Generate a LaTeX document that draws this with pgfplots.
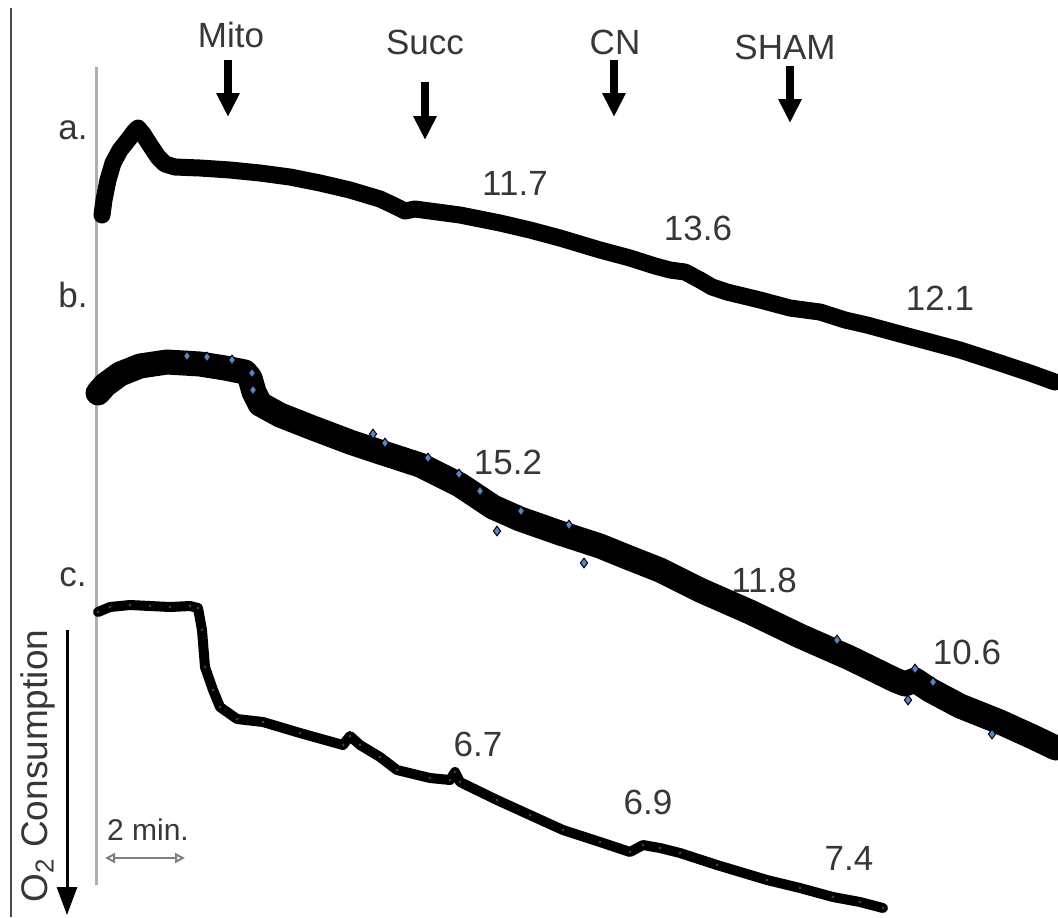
\documentclass[border=0pt]{standalone}
\usepackage{fontspec}
\setmainfont{Liberation Sans}
\usepackage{pgfplots}
\pgfplotsset{compat=1.18}
\usetikzlibrary{arrows.meta}
\definecolor{txt}{RGB}{55,55,55}
\definecolor{axgray}{RGB}{175,175,175}
\definecolor{dotblue}{RGB}{85,135,195}
\tikzset{lab/.style={text=txt, font=\fontsize{17.5}{20}\selectfont}}

\begin{document}
\begin{tikzpicture}
\begin{axis}[
    scale only axis, width=529pt, height=458.5pt,
    xmin=0, xmax=1058, ymin=0, ymax=917, y dir=reverse,
    hide axis,
]
\fill[white] (axis cs:0,0) rectangle (axis cs:1058,917);
% frame lines
\draw[black!70, line width=1pt] (axis cs:11,8) -- (axis cs:11,917);
\draw[axgray, line width=1.5pt] (axis cs:96,67) -- (axis cs:96,885);

% trace a
\addplot[black, line width=8.5pt, line join=round, line cap=round] coordinates {
  (102,215)(104,200)(108,180)(113,163)(120,150)(128,140)(134,132)(138,128)
  (143,134)(150,145)(158,157)(165,164)(175,167)(200,168)(230,170)(260,173)
  (290,177)(320,183)(350,190)(380,199)(395,206)(405,211)(415,209)(430,211)
  (460,215)(500,223)(530,230)(560,238)(600,250)(630,258)(655,266)(670,270)
  (685,272)(700,280)(712,287)(727,292)(760,300)(790,308)(820,312)(845,320)
  (867,325)(900,334)(930,342)(960,350)(1000,363)(1030,373)(1055,382)
};

% trace b
\addplot[black, line width=12.5pt, line join=round, line cap=round] coordinates {
  (98,393)(105,385)(120,374)(140,366)(167,362)(200,364)(225,368)(245,372)
  (250,378)(254,392)(260,404)(280,415)(313,428)(350,442)(380,452)(420,465)
  (460,485)(493,507)(520,519)(560,533)(600,546)(627,557)(660,570)(700,590)
  (750,612)(800,636)(850,658)(895,680)(905,684)(915,680)(930,690)(960,706)
  (1000,722)(1033,737)(1056,748)
};
\addplot[only marks, mark=diamond*, mark size=2.4pt,
  mark options={fill=dotblue, draw=black, line width=0.5pt}] coordinates {
  (187,356)(207,357)(232,360)(252,373)(253,390)(373,434)(385,443)(428,458)
  (459,474)(480,491)(521,511)(497,531)(569,525)(584,563)(837,640)(915,669)
  (908,700)(933,682)(992,734)
};

% trace c
\addplot[black, line width=5pt, line join=round, line cap=round,
  mark=*, mark size=0.7pt, mark options={fill=white, draw=black, line width=0.4pt}] coordinates {
  (98,612)(110,607)(130,605)(150,606)(170,607)(190,606)(198,608)(202,630)
  (205,667)(213,690)(220,707)(237,719)(263,722)(300,733)(343,745)(350,736)
  (360,745)(380,757)(397,770)(430,778)(450,780)(455,772)(460,782)(497,800)
  (530,815)(563,830)(600,842)(630,852)(643,845)(660,848)(680,853)(717,865)
  (767,880)(800,888)(833,897)(860,902)(883,908)
};

% arrows and labels
\draw[black, line width=4pt, -{Triangle[width=11pt,length=12pt]}] (axis cs:228,60) -- (axis cs:228,117);
\draw[black, line width=4pt, -{Triangle[width=11pt,length=12pt]}] (axis cs:425,82) -- (axis cs:425,140);
\draw[black, line width=4pt, -{Triangle[width=11pt,length=12pt]}] (axis cs:614,60) -- (axis cs:614,117);
\draw[black, line width=4pt, -{Triangle[width=11pt,length=12pt]}] (axis cs:790,66) -- (axis cs:790,123);
\node[lab] at (axis cs:231,35) {Mito};
\node[lab] at (axis cs:425,42) {Succ};
\node[lab] at (axis cs:615,42) {CN};
\node[lab] at (axis cs:785,47) {SHAM};

\node[lab] at (axis cs:73,130) {a.};
\node[lab] at (axis cs:73,295) {b.};
\node[lab] at (axis cs:73,577) {c.};

\node[lab] at (axis cs:515,183) {11.7};
\node[lab] at (axis cs:698,228) {13.6};
\node[lab] at (axis cs:940,298) {12.1};
\node[lab] at (axis cs:508,462) {15.2};
\node[lab] at (axis cs:764,580) {11.8};
\node[lab] at (axis cs:967,652) {10.6};
\node[lab] at (axis cs:478,744) {6.7};
\node[lab] at (axis cs:648,802) {6.9};
\node[lab] at (axis cs:849,858) {7.4};

% scale bar
\node[text=txt, font=\fontsize{15}{18}\selectfont] at (axis cs:148,830) {2 min.};
\draw[gray, line width=1pt, {Triangle[open,width=5pt,length=5pt]}-{Triangle[open,width=5pt,length=5pt]}] (axis cs:105,858) -- (axis cs:185,858);

% y direction arrow
\node[rotate=90, text=txt, font=\fontsize{18.5}{20}\selectfont] at (axis cs:38,766) {O\textsubscript{2} Consumption};
\draw[black, line width=1.5pt, -{Triangle[width=10pt,length=14pt]}] (axis cs:67,630) -- (axis cs:67,915);
\end{axis}
\end{tikzpicture}
\end{document}
